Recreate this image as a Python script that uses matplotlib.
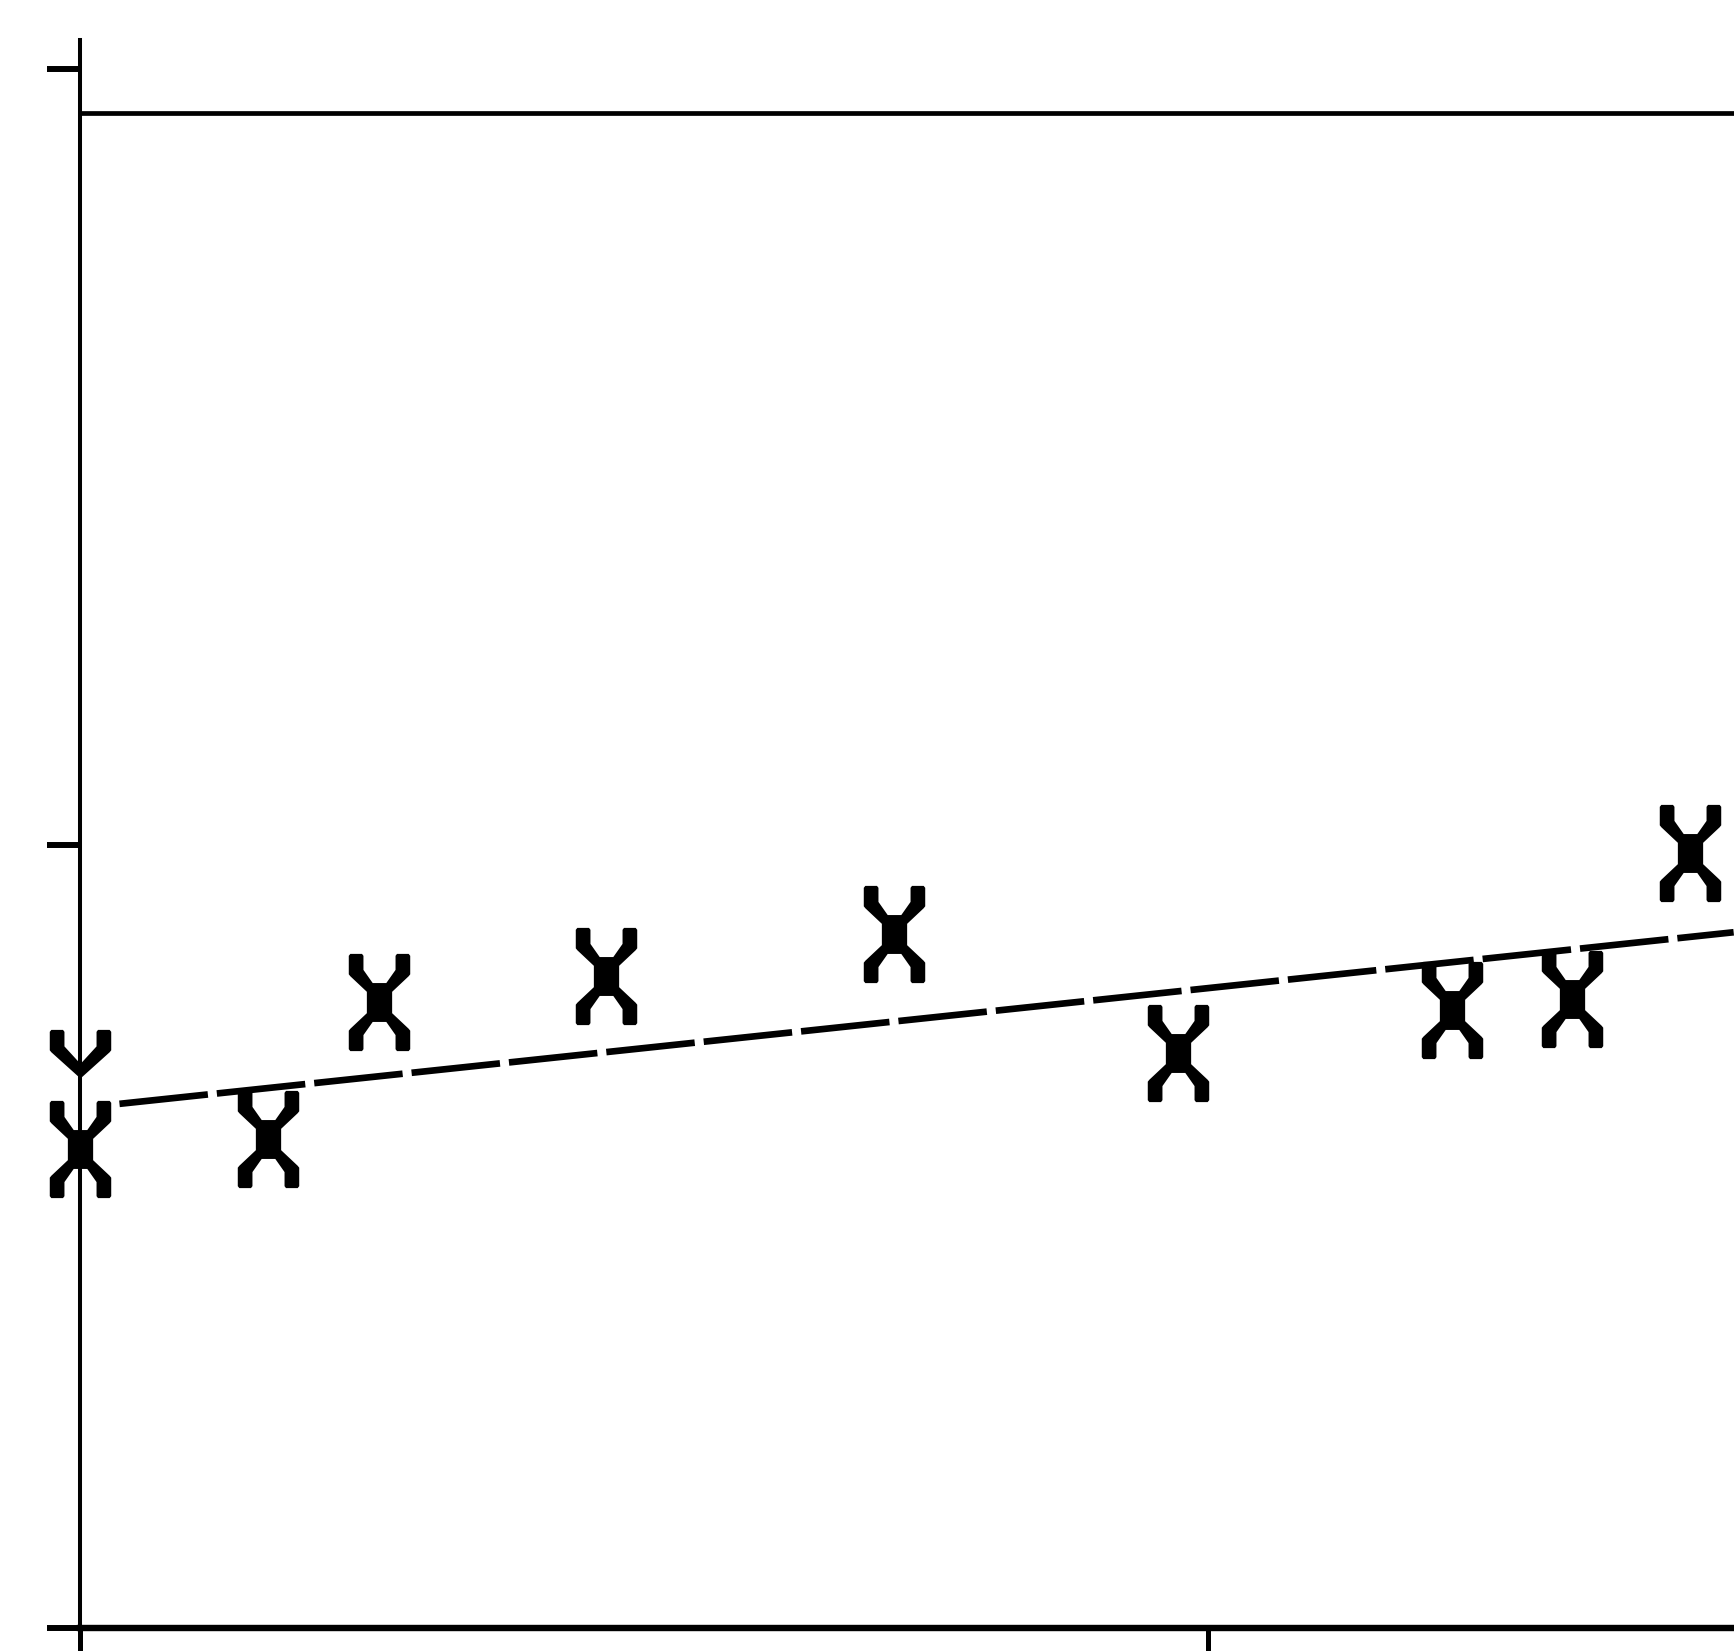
import matplotlib
matplotlib.use("Agg")
import matplotlib.pyplot as plt
from matplotlib.path import Path

# data (axes have no labels, units are arbitrary)
x_pts = [0.0, 0.167, 0.265, 0.466, 0.722, 0.973, 1.216, 1.323, 1.427]
y_pts = [0.611, 0.624, 0.799, 0.832, 0.886, 0.734, 0.789, 0.803, 0.989]

# the odd half symbol sitting on the axis above the first point
x_half = [0.0]
y_half = [0.702]

# fitted line (dashed) and the horizontal line on top
fit_x = [0.035, 1.466]
fit_y = [0.669, 0.888]
top_level = 1.934

xticks = [0, 1]
yticks = [0, 1, 1.99]


def x_marker():
    # bold "X" with flat blobs at the tips, height 1
    q = [(0, 0.2), (0.07, 0.2), (0.165, 0.335), (0.165, 0.48),
         (0.18, 0.5), (0.30, 0.5), (0.316, 0.48), (0.316, 0.29),
         (0.30, 0.27), (0.13, 0.11), (0.13, 0)]
    verts = list(q)
    verts += [(x, -y) for x, y in q[::-1]][1:]
    verts += [(-x, -y) for x, y in q][1:]
    verts += [(-x, y) for x, y in q[::-1]][1:-1]
    verts.append(verts[0])
    return Path(verts, closed=True)


def v_marker():
    # upper half only, point at the bottom
    r = [(0, 0), (0.30, 0.27), (0.316, 0.29), (0.316, 0.48), (0.30, 0.5),
         (0.18, 0.5), (0.165, 0.48), (0.165, 0.33), (0, 0.15)]
    verts = list(r)
    verts += [(-x, y) for x, y in r[::-1]][1:-1]
    verts.append(verts[0])
    return Path(verts, closed=True)


plt.rcParams['lines.scale_dashes'] = False

W, H = 1734, 1651
fig = plt.figure(figsize=(W / 100, H / 100), dpi=100)

# pixel geometry of the scan
left_px, bottom_px, top_px = 80, 1628, 40
x_unit, y_unit = 1128, 783.5

ax = fig.add_axes([left_px / W, (H - bottom_px) / H,
                   (W - left_px) / W, (bottom_px - top_px) / H])
ax.set_xlim(0, (W - left_px) / x_unit)
ax.set_ylim(0, (bottom_px - top_px) / y_unit)

ax.plot(fit_x, fit_y, color='k', lw=4.8, dashes=(64, 6.5), solid_capstyle='butt')
ax.axhline(top_level, color='k', lw=3.4)

ax.plot(x_pts, y_pts, ls='none', marker=x_marker(), ms=70, color='k',
        mew=0, clip_on=False, zorder=5)
ax.plot(x_half, y_half, ls='none', marker=v_marker(), ms=70, color='k',
        mew=0, clip_on=False, zorder=5)

for s in ['top', 'right']:
    ax.spines[s].set_visible(False)
ax.spines['left'].set_linewidth(2.9)
ax.spines['bottom'].set_linewidth(4.6)

ax.set_xticks(xticks)
ax.set_yticks(yticks)
ax.set_xticklabels([])
ax.set_yticklabels([])
ax.tick_params(axis='y', direction='out', length=24, width=4.3, color='k')
ax.tick_params(axis='x', direction='out', length=24, width=3.6, color='k')

fig.savefig('out.png', dpi=100, facecolor='white')
